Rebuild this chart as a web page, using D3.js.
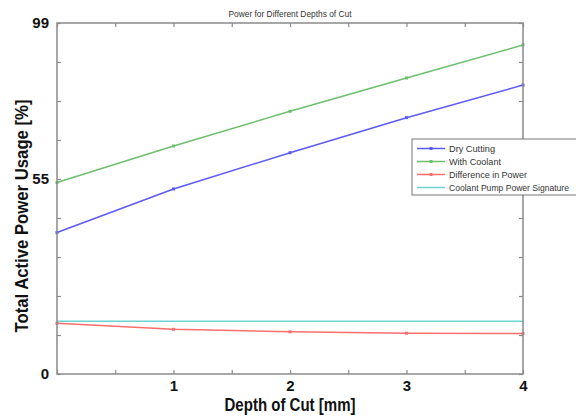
<!DOCTYPE html>
<html><head><meta charset="utf-8">
<script src="https://cdn.jsdelivr.net/npm/d3@7"></script>
<style>
body{margin:0;background:#fff;}
svg{display:block;}
</style></head>
<body><svg id="chart" width="576" height="416"></svg>
<script>
const depths = [0, 1, 2, 3, 4];
const dryCutting = [39.9, 52.2, 62.4, 72.3, 81.5];
const withCoolant = [54.0, 64.3, 74.1, 83.5, 92.8];
const difference = [14.3, 12.6, 11.9, 11.5, 11.4];
const pumpSignature = [14.9, 14.9, 14.9, 14.9, 14.9];
const yTickValues = [0, 11, 22, 33, 44, 55, 66, 77, 88, 99];
const yTickLabels = {0: "0", 55: "55", 99: "99"};
const xTickValues = [0, 0.5, 1, 1.5, 2, 2.5, 3, 3.5, 4];
const xTickLabels = {1: "1", 2: "2", 3: "3", 4: "4"};
const seriesNames = ["Dry Cutting", "With Coolant", "Difference in Power", "Coolant Pump Power Signature"];
const legendTextWidths = [46, 52, 78, 120];

const series = [
  {name: seriesNames[0], values: dryCutting, color: "#5a5af5", marker: true},
  {name: seriesNames[1], values: withCoolant, color: "#6cbf6c", marker: true},
  {name: seriesNames[2], values: difference, color: "#ff6e6e", marker: true},
  {name: seriesNames[3], values: pumpSignature, color: "#6fd3d3", marker: false}
];

const svg = d3.select("#chart");
const m = {left: 57, right: 523, top: 23, bottom: 374};
const x = d3.scaleLinear().domain([0, 4]).range([m.left, m.right]);
const y = d3.scaleLinear().domain([0, 99]).range([m.bottom, m.top]);
const axisColor = "#8a8a8a";
const font = "'Liberation Sans',Arial,sans-serif";

// data lines
const line = d3.line().x((d, i) => x(depths[i])).y(d => y(d));
const g = svg.append("g");
series.forEach(s => {
  g.append("path").datum(s.values).attr("d", line)
    .attr("fill", "none").attr("stroke", s.color).attr("stroke-width", 1.5);
  if (s.marker) {
    g.selectAll(null).data(s.values).enter().append("rect")
      .attr("x", (d, i) => x(depths[i]) - 1.5).attr("y", d => y(d) - 1.5)
      .attr("width", 3).attr("height", 3).attr("fill", s.color);
  }
});

// axes
function styleAxis(sel) {
  sel.select(".domain").remove();
  sel.selectAll(".tick line").attr("stroke", axisColor).attr("stroke-width", 1.2);
  sel.selectAll(".tick text").attr("fill", "#111").attr("font-family", font)
    .attr("font-weight", "bold").attr("font-size", 15);
}
const bottomAxis = d3.axisBottom(x).tickValues(xTickValues).tickSizeInner(-4).tickSizeOuter(0)
  .tickPadding(6).tickFormat(d => xTickLabels[d] || "");
svg.append("g").attr("transform", `translate(0,${m.bottom})`).call(bottomAxis).call(styleAxis);
const topAxis = d3.axisTop(x).tickValues(xTickValues).tickSizeInner(-4).tickSizeOuter(0).tickFormat("");
svg.append("g").attr("transform", `translate(0,${m.top})`).call(topAxis).call(styleAxis);
const leftAxis = d3.axisLeft(y).tickValues(yTickValues).tickSizeInner(-4).tickSizeOuter(0)
  .tickPadding(8).tickFormat(d => yTickLabels[d] || "");
svg.append("g").attr("transform", `translate(${m.left},0)`).call(leftAxis).call(styleAxis);
const rightAxis = d3.axisRight(y).tickValues(yTickValues).tickSizeInner(-4).tickSizeOuter(0).tickFormat("");
svg.append("g").attr("transform", `translate(${m.right},0)`).call(rightAxis).call(styleAxis);

// frame
svg.append("rect").attr("x", m.left).attr("y", m.top)
  .attr("width", m.right - m.left).attr("height", m.bottom - m.top)
  .attr("fill", "none").attr("stroke", axisColor).attr("stroke-width", 1.5);

// title and labels
svg.append("text").attr("x", (m.left + m.right) / 2).attr("y", 17)
  .attr("text-anchor", "middle").attr("font-family", font)
  .attr("font-size", 9).attr("fill", "#333")
  .attr("textLength", 123).attr("lengthAdjust", "spacingAndGlyphs")
  .text("Power for Different Depths of Cut");
svg.append("text").attr("x", (m.left + m.right) / 2).attr("y", 411)
  .attr("text-anchor", "middle").attr("font-family", font).attr("font-weight", "bold")
  .attr("font-size", 18).attr("fill", "#111")
  .attr("textLength", 131).attr("lengthAdjust", "spacingAndGlyphs")
  .text("Depth of Cut [mm]");
svg.append("text").attr("transform", `translate(28,216) rotate(-90)`)
  .attr("text-anchor", "middle").attr("font-family", font).attr("font-weight", "bold")
  .attr("font-size", 18).attr("fill", "#111")
  .attr("textLength", 233).attr("lengthAdjust", "spacingAndGlyphs")
  .text("Total Active Power Usage [%]");

// legend
const lg = svg.append("g").attr("transform", "translate(412,139)");
lg.append("rect").attr("x", 0).attr("y", 0).attr("width", 170).attr("height", 56)
  .attr("fill", "#fff").attr("stroke", "#777").attr("stroke-width", 1);
series.forEach((s, i) => {
  const yy = 9.5 + i * 13;
  lg.append("line").attr("x1", 5).attr("x2", 33).attr("y1", yy).attr("y2", yy)
    .attr("stroke", s.color).attr("stroke-width", 1.5);
  if (s.marker) lg.append("rect").attr("x", 17.5).attr("y", yy - 1.5).attr("width", 3).attr("height", 3).attr("fill", s.color);
  lg.append("text").attr("x", 37).attr("y", yy + 3.5).attr("font-family", font)
    .attr("font-size", 8.8).attr("fill", "#333")
    .attr("textLength", legendTextWidths[i]).attr("lengthAdjust", "spacingAndGlyphs")
    .text(s.name);
});
</script>
</body></html>
